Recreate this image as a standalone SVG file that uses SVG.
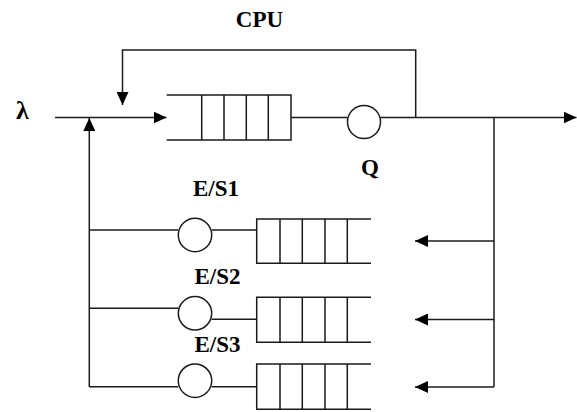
<svg xmlns="http://www.w3.org/2000/svg" width="577" height="412" viewBox="0 0 577 412">
<style>
.ln{fill:none;stroke:#1a1a1a;stroke-width:1.5}
.srv{fill:#fff;stroke:#1a1a1a;stroke-width:1.5}
.lbl{font-family:"Liberation Serif","Times New Roman",serif;font-weight:bold;font-size:23px;fill:#000;text-anchor:middle}
</style>
<defs>
<marker id="arr" markerUnits="userSpaceOnUse" markerWidth="14" markerHeight="12" refX="13" refY="6" orient="auto">
<path d="M0,0 L13,6 L0,12 z" fill="#000"/>
</marker>
</defs>
<rect width="577" height="412" fill="#fff"/>
<g id="connectors">
<path class="ln" d="M55,117.5 H166.5" marker-end="url(#arr)"/>
<path class="ln" d="M415.7,117.5 V50 H122.5 V105" marker-end="url(#arr)"/>
<path class="ln" d="M89.3,387 V118" marker-end="url(#arr)"/>
<path class="ln" d="M89.3,230 H178.3 M89.3,308.3 H178.3 M89.3,386.7 H178.3"/>
<path class="ln" d="M291,117.5 H347.5"/>
<path class="ln" d="M380.5,117.5 H576.5" marker-end="url(#arr)"/>
<path class="ln" d="M494,117.5 V387"/>
<path class="ln" d="M494,241 H415" marker-end="url(#arr)"/>
<path class="ln" d="M494,319.5 H415" marker-end="url(#arr)"/>
<path class="ln" d="M494,387 H415" marker-end="url(#arr)"/>
<path class="ln" d="M211.7,230 H256.7 M211.7,319.3 H256.7 M211.7,386.7 H256.7"/>
</g>
<g id="cpu-queue">
<path class="ln" d="M166.7,95 H291 V140 H166.7 M201.7,95 V140 M224,95 V140 M246.3,95 V140 M268.3,95 V140"/>
</g>
<g id="cpu-server">
<circle class="srv" cx="364" cy="122" r="16.5"/>
</g>
<g id="es1-server"><circle class="srv" cx="195" cy="235" r="16.7"/></g>
<g id="es1-queue">
<path class="ln" d="M371,219 H256.7 V263.3 H371 M280,219 V263.3 M302.3,219 V263.3 M325,219 V263.3 M347.3,219 V263.3"/>
</g>
<g id="es2-server"><circle class="srv" cx="195" cy="313.3" r="16.7"/></g>
<g id="es2-queue">
<path class="ln" d="M371,297.3 H256.7 V342.3 H371 M280,297.3 V342.3 M302.3,297.3 V342.3 M325,297.3 V342.3 M347.3,297.3 V342.3"/>
</g>
<g id="es3-server"><circle class="srv" cx="195" cy="380.7" r="16.7"/></g>
<g id="es3-queue">
<path class="ln" d="M371,364 H256.7 V409.3 H371 M280,364 V409.3 M302.3,364 V409.3 M325,364 V409.3 M347.3,364 V409.3"/>
</g>
<g id="labels">
<text class="lbl" x="259.5" y="27">CPU</text>
<text class="lbl" x="22.5" y="119" style="font-size:26px">λ</text>
<text class="lbl" x="370" y="175">Q</text>
<text class="lbl" x="216" y="196">E/S1</text>
<text class="lbl" x="217.5" y="284.3">E/S2</text>
<text class="lbl" x="217.5" y="352">E/S3</text>
</g>
</svg>
